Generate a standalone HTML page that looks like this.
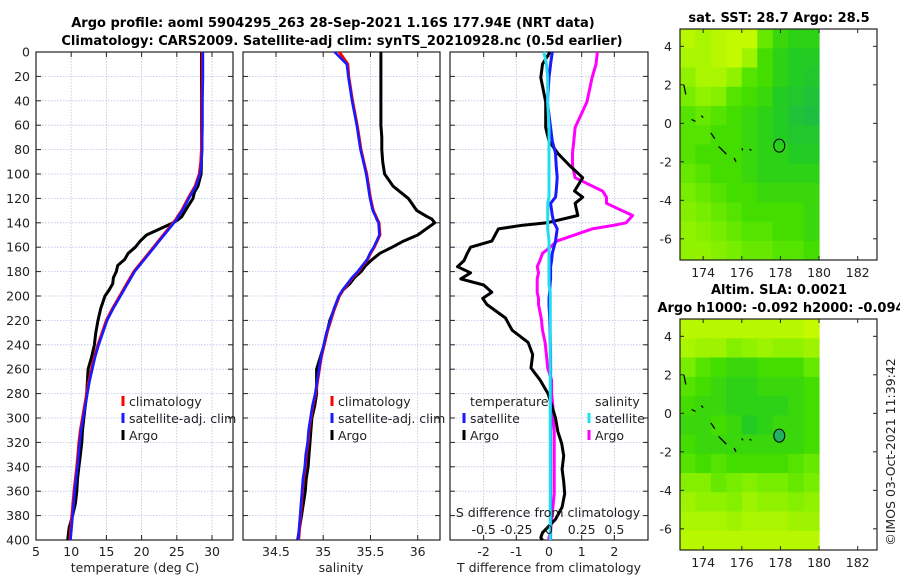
<!DOCTYPE html>
<html><head><meta charset="utf-8"><style>
html,body{margin:0;padding:0;background:#fff;}
svg{display:block;font-family:"DejaVu Sans","Liberation Sans",sans-serif;}
.t{font-size:12.5px;fill:#222;}
.b{font-weight:bold;font-size:13px;fill:#000;}
</style></head><body>
<svg id="c" width="900" height="580" xmlns="http://www.w3.org/2000/svg">
<text class="b" x="333" y="27" text-anchor="middle">Argo profile: aoml 5904295_263 28-Sep-2021 1.16S 177.94E (NRT data)</text>
<text class="b" x="342" y="45" text-anchor="middle">Climatology: CARS2009. Satellite-adj clim: synTS_20210928.nc (0.5d earlier)</text>
<text class="b" x="779" y="22" text-anchor="middle">sat. SST: 28.7 Argo: 28.5</text>
<text class="b" x="779" y="294" text-anchor="middle">Altim. SLA: 0.0021</text>
<text class="b" x="781" y="312" text-anchor="middle">Argo h1000: -0.092 h2000: -0.094</text>
<text class="t" x="0" y="0" transform="translate(895,452) rotate(-90)" text-anchor="middle">©IMOS 03-Oct-2021 11:39:42</text>
<g id="g"></g>
</svg>
<script>
const depths=[0,10,20,40,60,70,80,90,100,110,115,120,130,135,137,140,150,155,160,165,170,175,180,185,190,195,200,210,220,230,240,250,260,270,280,290,300,310,320,330,340,350,360,370,380,390,400];
const tempArgo=[28.5,28.5,28.5,28.5,28.5,28.5,28.5,28.5,28.45,28.0,27.5,27.3,26.2,25.7,25.3,24.5,20.7,19.8,19.1,18.1,17.6,16.6,16.4,16.0,15.9,15.4,14.8,14.2,13.8,13.5,13.3,12.9,12.4,12.3,12.2,12.0,11.8,11.6,11.5,11.3,11.1,10.9,10.8,10.6,10.2,9.7,9.5];
const tempClim=[28.6,28.6,28.6,28.55,28.55,28.5,28.5,28.4,28.2,27.6,27.1,26.6,25.7,25.1,24.9,24.5,23.1,22.4,21.7,21.0,20.3,19.6,18.9,18.4,17.9,17.4,16.9,15.9,15.0,14.4,13.8,13.3,12.9,12.5,12.2,11.9,11.6,11.3,11.1,10.95,10.8,10.6,10.4,10.25,10.1,9.95,9.8];
const tempSat=[28.7,28.7,28.7,28.65,28.65,28.6,28.6,28.5,28.3,27.7,27.2,26.7,25.8,25.2,25.0,24.6,23.2,22.5,21.8,21.1,20.4,19.7,19.0,18.5,18.0,17.5,17.0,16.0,15.1,14.5,13.9,13.4,13.0,12.6,12.3,12.0,11.7,11.4,11.2,11.05,10.9,10.7,10.5,10.35,10.2,10.05,9.9];
const salArgo=[35.61,35.61,35.61,35.61,35.61,35.62,35.62,35.63,35.65,35.74,35.82,35.9,35.99,36.1,36.15,36.18,36.0,35.85,35.73,35.6,35.52,35.45,35.4,35.33,35.28,35.21,35.17,35.12,35.07,35.04,35.01,34.97,34.93,34.93,34.93,34.91,34.88,34.87,34.86,34.85,34.84,34.82,34.81,34.79,34.77,34.75,34.73];
const salClim=[35.17,35.26,35.27,35.31,35.36,35.38,35.4,35.43,35.46,35.48,35.49,35.5,35.53,35.56,35.57,35.59,35.6,35.57,35.54,35.5,35.47,35.42,35.37,35.31,35.26,35.21,35.17,35.12,35.08,35.04,35.01,34.98,34.96,34.94,34.92,34.89,34.87,34.85,34.84,34.82,34.81,34.79,34.78,34.77,34.76,34.75,34.74];
const salSat=[35.12,35.25,35.265,35.305,35.355,35.375,35.395,35.425,35.455,35.475,35.485,35.495,35.525,35.555,35.565,35.585,35.595,35.565,35.535,35.495,35.465,35.415,35.365,35.305,35.255,35.205,35.165,35.115,35.075,35.035,35.005,34.975,34.955,34.935,34.915,34.885,34.865,34.845,34.835,34.815,34.805,34.785,34.775,34.765,34.755,34.745,34.735];
const diffDepths=[0,10,21,41,62,73,83,93,103,114,119,124,134,140,142,145,155,160,165,171,176,181,186,191,197,202,207,218,228,238,248,259,269,280,290,300,311,321,331,342,352,362,373,383,394,398,400];
const dTArgo=[0.03,-0.2,-0.25,-0.1,-0.1,0,0.27,0.63,1.03,0.78,1.03,0.8,0.88,-0.06,-0.8,-1.55,-1.75,-2.4,-2.5,-2.6,-2.8,-2.4,-2.7,-2.0,-1.75,-2.03,-1.9,-1.33,-1.13,-0.64,-0.5,-0.55,-0.27,-0.03,0.09,0.2,0.27,0.39,0.45,0.4,0.45,0.48,0.4,0.2,-0.2,-0.25,-0.2];
const dTSat=[0.1,0.05,0,-0.05,0.05,0.1,0.2,0.22,0.25,0.22,0.2,0.05,0.1,0.15,0.2,0.25,0.2,0.15,0.1,0.08,0.05,0.05,0.05,0.03,0.02,0.0,0,0.02,0.03,0.04,0.05,0.05,0.05,0.05,0.05,0.05,0.05,0.05,0.05,0.05,0.05,0.05,0.05,0.05,0.05,0.05,0.05];
const dSSat=[-0.04,-0.02,-0.01,-0.01,0,0,0,0,0,0,0,-0.01,-0.01,-0.01,-0.01,-0.01,0,0,0,0,0,0,0,0,0.01,0.01,0.01,0.01,0.01,0.01,0.01,0.01,0.01,0.01,0.01,0.01,0.01,0.01,0.01,0.01,0.01,0.01,0.01,0.01,0.01,0.01,0.01];
const dSArgo=[0.37,0.36,0.33,0.29,0.2,0.19,0.18,0.18,0.2,0.41,0.44,0.44,0.64,0.59,0.5,0.33,0.06,0.01,-0.05,-0.07,-0.09,-0.08,-0.09,-0.09,-0.09,-0.08,-0.08,-0.06,-0.05,-0.03,-0.02,-0.01,0.02,0.02,0.03,0.03,0.04,0.04,0.04,0.04,0.04,0.04,0.03,0.02,0.01,0.0,0.0];
const depthTicks=[0,20,40,60,80,100,120,140,160,180,200,220,240,260,280,300,320,340,360,380,400];
const tTicks=[5,10,15,20,25,30];
const sTicks=[34.5,35,35.5,36];
const dTTicks=[-2,-1,0,1,2];
const dSTicks=[-0.5,-0.25,0,0.25,0.5];
const sstGrid=[
[0.85,0.8,0.85,0.9,0.9,0.55,0.4,0.35,0.35],
[0.8,0.8,0.85,0.9,0.75,0.45,0.35,0.3,0.3],
[0.7,0.8,0.8,0.7,0.5,0.45,0.35,0.3,0.25],
[0.6,0.7,0.65,0.5,0.45,0.4,0.3,0.25,0.2],
[0.5,0.55,0.5,0.45,0.4,0.35,0.3,0.2,0.15],
[0.5,0.5,0.45,0.45,0.4,0.35,0.3,0.25,0.25],
[0.5,0.45,0.45,0.45,0.4,0.35,0.35,0.3,0.3],
[0.55,0.5,0.45,0.45,0.4,0.35,0.35,0.35,0.35],
[0.6,0.55,0.5,0.45,0.45,0.4,0.4,0.4,0.4],
[0.65,0.6,0.55,0.5,0.45,0.45,0.45,0.45,0.4],
[0.7,0.65,0.6,0.55,0.5,0.5,0.45,0.45,0.4],
[0.7,0.7,0.65,0.6,0.55,0.55,0.5,0.5,0.45]];
const slaGrid=[
[0.85,0.85,0.85,0.85,0.85,0.85,0.85,0.85,0.9],
[0.8,0.75,0.75,0.65,0.7,0.75,0.7,0.7,0.75],
[0.6,0.5,0.45,0.4,0.4,0.45,0.45,0.45,0.55],
[0.5,0.45,0.4,0.35,0.35,0.4,0.4,0.4,0.45],
[0.45,0.4,0.4,0.35,0.35,0.35,0.35,0.4,0.45],
[0.4,0.4,0.45,0.4,0.3,0.35,0.4,0.4,0.45],
[0.45,0.4,0.4,0.4,0.4,0.4,0.4,0.4,0.45],
[0.5,0.45,0.5,0.45,0.45,0.45,0.45,0.5,0.55],
[0.65,0.65,0.55,0.6,0.65,0.6,0.6,0.55,0.6],
[0.75,0.7,0.7,0.65,0.75,0.7,0.7,0.65,0.7],
[0.8,0.8,0.8,0.75,0.8,0.8,0.8,0.75,0.75],
[0.85,0.85,0.85,0.85,0.85,0.85,0.85,0.85,0.85]];
const lonTicks=[174,176,178,180,182];
const latTicks=[4,2,0,-2,-4,-6];
const argoLon=177.94, argoLat=-1.16;

const NS='http://www.w3.org/2000/svg';
const root=document.getElementById('g');
function el(tag,attrs,parent,text){const e=document.createElementNS(NS,tag);for(const k in attrs)e.setAttribute(k,attrs[k]);if(text!==undefined)e.textContent=text;(parent||root).appendChild(e);return e;}
const PT=52,PB=540;
const yD=d=>PT+(PB-PT)*d/400;
const panels=[
 {x0:36,x1:233,v0:5,v1:32.98,name:'temperature-panel'},
 {x0:243,x1:440,v0:34.151,v1:36.236,name:'salinity-panel'},
 {x0:450,x1:648,v0:-3.03,v1:3.03,name:'difference-panel'}];
function sx(p,v){return p.x0+(v-p.v0)/(p.v1-p.v0)*(p.x1-p.x0);}
panels.forEach((p,i)=>{
 const g=el('g',{});
 
 
 const ticks=[tTicks,sTicks,dTTicks][i];
 depthTicks.forEach(d=>{const y=yD(d);
  const l=el('line',{x1:p.x0,x2:p.x1,y1:y,y2:y,stroke:'#b8c4e8','stroke-width':0.8,'stroke-dasharray':'1.5,1.5'},g);
  
  el('line',{x1:p.x0,x2:p.x0+5,y1:y,y2:y,stroke:'#222'},g);el('line',{x1:p.x1,x2:p.x1-5,y1:y,y2:y,stroke:'#222'},g);
  if(i==0){const t=el('text',{class:'t',x:30,y:y+4.5,'text-anchor':'end'},g,d);}
 });
 ticks.forEach(v=>{const x=sx(p,v);
  const l=el('line',{x1:x,x2:x,y1:PT,y2:PB,stroke:'#b8c4e8','stroke-width':0.8,'stroke-dasharray':'1.5,1.5'},g);
  
  el('line',{x1:x,x2:x,y1:PB,y2:PB-5,stroke:'#222'},g);el('line',{x1:x,x2:x,y1:PT,y2:PT+5,stroke:'#222'},g);
  const t=el('text',{class:'t',x:x,y:PB+16,'text-anchor':'middle'},g,v);
 });
 const r=el('rect',{x:p.x0,y:PT,width:p.x1-p.x0,height:PB-PT,fill:'none',stroke:'#222','stroke-width':1.2},g);
 
});
function line(p,dep,vals,color,w,name,scale){
 const pts=dep.map((d,k)=>sx(p,vals[k]*(scale||1)).toFixed(1)+','+yD(d).toFixed(1)).join(' ');
 const l=el('polyline',{points:pts,fill:'none',stroke:color,'stroke-width':w,'stroke-linejoin':'round'});
 
}
line(panels[0],depths,tempArgo,'#000',3,'temp-argo-line');
line(panels[0],depths,tempClim,'#f00',3,'temp-climatology-line');
line(panels[0],depths,tempSat,'#1a1aff',2.6,'temp-satellite-line');
line(panels[1],depths,salArgo,'#000',3,'sal-argo-line');
line(panels[1],depths,salClim,'#f00',3,'sal-climatology-line');
line(panels[1],depths,salSat,'#1a1aff',2.6,'sal-satellite-line');
line(panels[2],diffDepths,dSArgo,'#ff00ff',3,'sal-diff-argo-line',4);
line(panels[2],diffDepths,dTArgo,'#000',3,'temp-diff-argo-line');
line(panels[2],diffDepths,dTSat,'#1a1aff',3,'temp-diff-satellite-line');
line(panels[2],diffDepths,dSSat,'#22ddee',3,'sal-diff-satellite-line',4);
dSTicks.forEach(v=>{const x=sx(panels[2],v*4);const t=el('text',{class:'t',x:x,y:534,'text-anchor':'middle'},null,v);});
[['S difference from climatology',548,517,'s-diff-axis-title'],['temperature (deg C)',135,572,'temp-axis-title'],['salinity',341,572,'sal-axis-title'],['T difference from climatology',549,572,'t-diff-axis-title']].forEach(a=>{
 const t=el('text',{class:'t',x:a[1],y:a[2],'text-anchor':'middle'},null,a[0]);});
function legend(x,y,color,label,name){
 const g=el('g',{});
 if(color) el('line',{x1:x,x2:x,y1:y-10,y2:y,stroke:color,'stroke-width':3},g);
 el('text',{class:'t',x:x+6,y:y},g,label);
}
legend(123,406,'#f00','climatology','legend-temp-climatology');
legend(123,423,'#1a1aff','satellite-adj. clim','legend-temp-satellite');
legend(123,440,'#000','Argo','legend-temp-argo');
legend(332,406,'#f00','climatology','legend-sal-climatology');
legend(332,423,'#1a1aff','satellite-adj. clim','legend-sal-satellite');
legend(332,440,'#000','Argo','legend-sal-argo');
legend(464,406,null,'temperature','legend-temperature-heading');
legend(464,423,'#1a1aff','satellite','legend-dt-satellite');
legend(464,440,'#000','Argo','legend-dt-argo');
legend(589,406,null,'salinity','legend-salinity-heading');
legend(589,423,'#22ddee','satellite','legend-ds-satellite');
legend(589,440,'#ff00ff','Argo','legend-ds-argo');
function cmap(v){const stops=[[0,[25,176,96]],[0.3,[34,204,34]],[0.45,[68,221,0]],[0.6,[119,238,0]],[0.8,[170,245,0]],[1,[221,255,0]]];
 for(let i=1;i<stops.length;i++){if(v<=stops[i][0]){const a=stops[i-1],b=stops[i],f=(v-a[0])/(b[0]-a[0]);return 'rgb('+a[1].map((c,k)=>Math.round(c+(b[1][k]-c)*f)).join(',')+')';}}return 'rgb(221,255,0)';}
function map(grid,y0,y1,name,filledDot){
 const X0=680,X1=877,L0=172.8,L1=183.0,A0=4.9,A1=-7.1;
 const mx=v=>X0+(v-L0)/(L1-L0)*(X1-X0), my=v=>y0+(v-A0)/(A1-A0)*(y1-y0);
 const g=el('g',{});
 const nr=grid.length,nc=grid[0].length,cw=(180-L0)/nc,rh=(A0-A1)/nr;
 grid.forEach((row,r)=>row.forEach((v,c)=>{const x=mx(L0+c*cw),y=my(A0-r*rh);
  const rc=el('rect',{x:x.toFixed(1),y:y.toFixed(1),width:(mx(L0+(c+1)*cw)-x+0.5).toFixed(1),height:(my(A0-(r+1)*rh)-y+0.5).toFixed(1),fill:cmap(v)},g);
  }));
 [[174.4,-0.5,174.6,-0.8],[174.8,-1.2,175.2,-1.6],[175.6,-1.8,175.7,-2.0],[176,-1.3,176.05,-1.4],[176.4,-1.35,176.5,-1.4],[173.0,2.0,173.1,1.5],[173.4,0.2,173.6,0.1],[173.9,0.4,174.0,0.3]].forEach(s=>el('line',{x1:mx(s[0]),y1:my(s[1]),x2:mx(s[2]),y2:my(s[3]),stroke:'#000','stroke-width':1.3},g));
 const c=el('ellipse',{cx:mx(argoLon),cy:my(argoLat),rx:5.5,ry:6.5,fill:filledDot?'#20b060':'none',stroke:'#000','stroke-width':1},g);
 
 el('rect',{x:X0,y:y0,width:X1-X0,height:y1-y0,fill:'none',stroke:'#222','stroke-width':1.2},g);
 lonTicks.forEach(v=>{const x=mx(v);el('line',{x1:x,x2:x,y1:y1,y2:y1-4,stroke:'#222'},g);el('line',{x1:x,x2:x,y1:y0,y2:y0+4,stroke:'#222'},g);
  const t=el('text',{class:'t',x:x,y:y1+17,'text-anchor':'middle'},g,v);});
 latTicks.forEach(v=>{const y=my(v);el('line',{x1:X0,x2:X0+4,y1:y,y2:y,stroke:'#222'},g);el('line',{x1:X1,x2:X1-4,y1:y,y2:y,stroke:'#222'},g);
  const t=el('text',{class:'t',x:672,y:y+4.5,'text-anchor':'end'},g,v);});
}
map(sstGrid,29,260,'sst-map',false);
map(slaGrid,319,550,'sla-map',true);
</script>
</body></html>
